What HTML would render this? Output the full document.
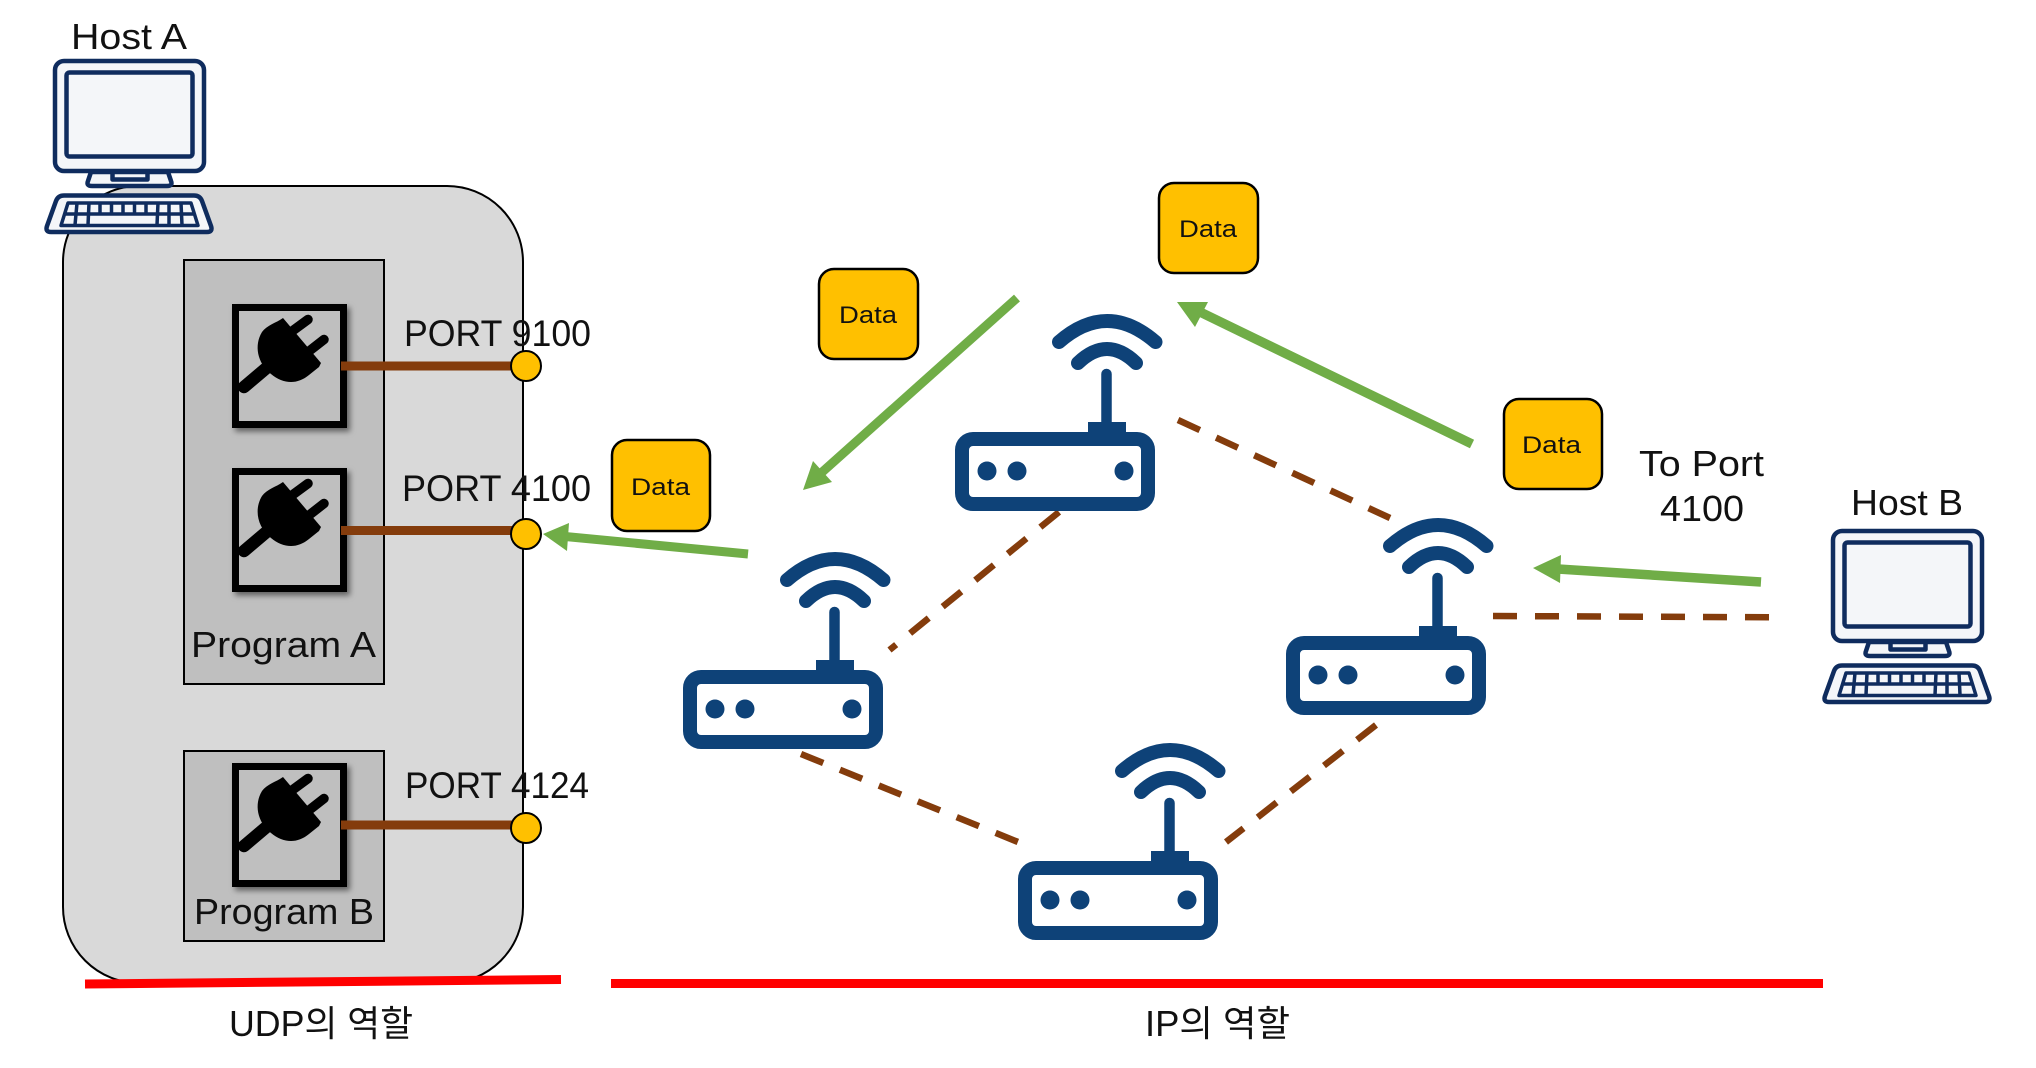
<!DOCTYPE html>
<html lang="ko">
<head>
<meta charset="utf-8">
<title>UDP와 IP의 역할</title>
<style>
html,body{margin:0;padding:0;background:#fff;width:2036px;height:1068px;overflow:hidden}
svg{display:block}
text{font-family:"Liberation Sans","Noto Sans CJK KR",sans-serif;fill:#111}
</style>
</head>
<body>
<svg xmlns="http://www.w3.org/2000/svg" width="2036" height="1068" viewBox="0 0 2036 1068">
<defs>
<filter id="sh" x="-20%" y="-20%" width="150%" height="150%">
<feDropShadow dx="3" dy="3.500" stdDeviation="3" flood-color="#000" flood-opacity=".5"/>
</filter>
<g id="plug">
<g filter="url(#sh)">
<rect x="235.500" y="307.500" width="108" height="117" fill="#bfbfbf" stroke="#000" stroke-width="7"/>
<path d="M283 318 L321 363 L319 367 L309 375 C297 385 283 384 271 374 C257 363 254 345 262 332 C267 325 276 323 283 318Z" fill="#000"/>
<path d="M291 332 L308 319.500 M308 352 L324 339.500" stroke="#000" stroke-width="9.500" stroke-linecap="round" fill="none"/>
<path d="M244 387 L270 365" stroke="#000" stroke-width="12.500" stroke-linecap="round" fill="none"/>
</g>
</g>
<g id="router">
<rect x="962" y="439" width="186" height="65" rx="11" fill="#fff" stroke="#0e4278" stroke-width="14"/>
<rect x="1088" y="422" width="38" height="14" fill="#0e4278"/>
<path d="M1106.500 374 V425" stroke="#0e4278" stroke-width="10.500" stroke-linecap="round" fill="none"/>
<path d="M1059 342 Q1107 300 1155.500 342 M1078 363 Q1107 335 1136 363" stroke="#0e4278" stroke-width="14" stroke-linecap="round" fill="none"/>
<circle cx="987" cy="471" r="9.500" fill="#0e4278"/>
<circle cx="1017" cy="471" r="9.500" fill="#0e4278"/>
<circle cx="1124" cy="471" r="9.500" fill="#0e4278"/>
</g>
<g id="pc" stroke="#0f2c5e" stroke-width="4.500" fill="#f4f6f9" stroke-linejoin="round">
<rect x="55" y="61" width="149" height="110" rx="9"/>
<rect x="66.500" y="72.500" width="126" height="84" rx="3"/>
<path d="M91 172 L88 181 Q86 186 92 186 L167 186 Q173 186 171 181 L168 172Z"/>
<rect x="112.500" y="172" width="35" height="7.500"/>
<path d="M64 195.500 L194 195.500 Q200 195.500 202 201 L211 226 Q213 232 207 232 L51 232 Q45 232 47 226 L56 201 Q58 195.500 64 195.500Z"/>
<path d="M68 203 L191 203 L198 225.500 L61 225.500Z M64 214 H195 M77 203 L75 225 M89 203 L88 225 M100 203 V214 M111.500 203 V214 M123 203 V214 M134.500 203 V214 M146 203 V214 M158 203 L157 225 M169 203 L169 225 M181 203 L182 225" fill="none" stroke-width="3.500"/>
</g>
</defs>

<!-- Host A container -->
<rect x="63" y="186" width="460" height="797" rx="76" fill="#d9d9d9" stroke="#000" stroke-width="2"/>
<rect x="184" y="260" width="200" height="424" fill="#bfbfbf" stroke="#000" stroke-width="2"/>
<rect x="184" y="751" width="200" height="190" fill="#bfbfbf" stroke="#000" stroke-width="2"/>

<use href="#plug"/>
<use href="#plug" transform="translate(0 164)"/>
<use href="#plug" transform="translate(0 459)"/>

<rect x="341" y="361.500" width="175" height="9" fill="#843c0c"/>
<rect x="341" y="526" width="175" height="9" fill="#843c0c"/>
<rect x="341" y="820.500" width="175" height="9" fill="#843c0c"/>
<circle cx="526" cy="366" r="15" fill="#ffc000" stroke="#000" stroke-width="2"/>
<circle cx="526" cy="534" r="15" fill="#ffc000" stroke="#000" stroke-width="2"/>
<circle cx="526" cy="828" r="15" fill="#ffc000" stroke="#000" stroke-width="2"/>

<use href="#pc"/>
<use href="#pc" transform="translate(1778 470)"/>

<!-- Labels, left -->
<text x="71" y="49" font-size="36" textLength="116" lengthAdjust="spacingAndGlyphs">Host A</text>
<text x="404" y="346" font-size="37" textLength="187" lengthAdjust="spacingAndGlyphs">PORT 9100</text>
<text x="402" y="501" font-size="37" textLength="189" lengthAdjust="spacingAndGlyphs">PORT 4100</text>
<text x="405" y="798" font-size="37" textLength="184" lengthAdjust="spacingAndGlyphs">PORT 4124</text>
<text x="191" y="657" font-size="36" textLength="185" lengthAdjust="spacingAndGlyphs">Program A</text>
<text x="194" y="924" font-size="36" textLength="180" lengthAdjust="spacingAndGlyphs">Program B</text>
<text x="229" y="1036" font-size="36" textLength="184" lengthAdjust="spacingAndGlyphs">UDP의 역할</text>
<text x="1145" y="1036" font-size="36" textLength="145" lengthAdjust="spacingAndGlyphs">IP의 역할</text>

<!-- Red lines -->
<path d="M85 984 L561 979.500" stroke="#ff0000" stroke-width="9" fill="none"/>
<path d="M611 983.500 H1823" stroke="#ff0000" stroke-width="9" fill="none"/>

<!-- Dashed links -->
<g stroke="#843c0c" stroke-width="6.500" fill="none" stroke-dasharray="24 18">
<path d="M1059 512 L889.500 650"/>
<path d="M1178 420 L1390 518"/>
<path d="M801 754 L1018 842"/>
<path d="M1376 725 L1226 842"/>
</g>
<path d="M1493 616 L1769 617.300" stroke="#843c0c" stroke-width="6.500" fill="none" stroke-dasharray="24 18"/>

<!-- Routers -->
<use href="#router"/>
<use href="#router" transform="translate(-272 238)"/>
<use href="#router" transform="translate(331 204)"/>
<use href="#router" transform="translate(63 429)"/>

<!-- Data boxes -->
<g fill="#ffc000" stroke="#000" stroke-width="2.500">
<rect x="612" y="440" width="98" height="91" rx="15"/>
<rect x="819" y="269" width="99" height="90" rx="15"/>
<rect x="1159" y="183" width="99" height="90" rx="15"/>
<rect x="1504" y="399" width="98" height="90" rx="15"/>
</g>
<text x="631" y="495" font-size="24" textLength="59" lengthAdjust="spacingAndGlyphs">Data</text>
<text x="839" y="323" font-size="24" textLength="58" lengthAdjust="spacingAndGlyphs">Data</text>
<text x="1179" y="237" font-size="24" textLength="58" lengthAdjust="spacingAndGlyphs">Data</text>
<text x="1522" y="453" font-size="24" textLength="59" lengthAdjust="spacingAndGlyphs">Data</text>

<!-- Green arrows -->
<g fill="#70ad47">
<path d="M748 554 L560 536" stroke="#70ad47" stroke-width="9" fill="none"/>
<polygon points="543,534 569,523 567,551"/>
<path d="M1017 298 L820 474" stroke="#70ad47" stroke-width="9" fill="none"/>
<polygon points="803,490 813,461 832,482"/>
<path d="M1472 444 L1198 311" stroke="#70ad47" stroke-width="9.500" fill="none"/>
<polygon points="1177,302 1208,302 1195,327"/>
<path d="M1761 582 L1558 569" stroke="#70ad47" stroke-width="9.500" fill="none"/>
<polygon points="1533,568 1561,555 1560,583"/>
</g>

<!-- Labels, right -->
<text x="1639" y="476" font-size="36" textLength="125" lengthAdjust="spacingAndGlyphs">To Port</text>
<text x="1660" y="521" font-size="36" textLength="84" lengthAdjust="spacingAndGlyphs">4100</text>
<text x="1851" y="515" font-size="36" textLength="112" lengthAdjust="spacingAndGlyphs">Host B</text>
</svg>
</body>
</html>
